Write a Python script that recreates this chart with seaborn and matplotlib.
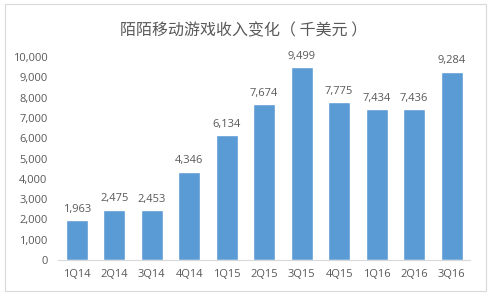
import matplotlib
matplotlib.use("Agg")
import matplotlib.pyplot as plt
import seaborn as sns
import pandas as pd
from matplotlib.patches import Rectangle

quarters = ["1Q14", "2Q14", "3Q14", "4Q14", "1Q15", "2Q15", "3Q15", "4Q15", "1Q16", "2Q16", "3Q16"]
revenue = [1963, 2475, 2453, 4346, 6134, 7674, 9499, 7775, 7434, 7436, 9284]
yticks = [0, 1000, 2000, 3000, 4000, 5000, 6000, 7000, 8000, 9000, 10000]
title = "陌陌移动游戏收入变化（ 千美元 ）"

sns.set_theme(style="white")
plt.rcParams['font.family'] = ['Open Sans', 'Noto Sans CJK SC', 'DejaVu Sans']

df = pd.DataFrame({"quarter": quarters, "revenue": revenue})

fig = plt.figure(figsize=(4.91, 2.97), dpi=100)
ax = fig.add_axes([0.118, 0.1246, 0.84, 0.6834])
sns.barplot(data=df, x="quarter", y="revenue", color="#5B9BD5", saturation=1,
            width=0.59, ax=ax)

gray = "#595959"
ax.set_ylim(0, 10000)
ax.set_yticks(yticks)
ax.set_yticklabels([f"{v:,}" for v in yticks], fontsize=8, color=gray)
ax.tick_params(axis='x', labelsize=8, colors=gray, length=0, pad=6.5)
ax.tick_params(axis='y', length=0, pad=7.5)
ax.set_xlabel("")
ax.set_ylabel("")
for s in ["top", "right", "left"]:
    ax.spines[s].set_visible(False)
ax.spines["bottom"].set_color("#D9D9D9")
ax.spines["bottom"].set_linewidth(0.8)

for c in ax.containers:
    ax.bar_label(c, labels=[f"{v:,}" for v in revenue], fontsize=8, color=gray, padding=4)

fig.text(0.497, 0.895, title, ha="center", va="center", fontsize=11.5, color=gray,
         family=['Noto Sans CJK SC', 'DejaVu Sans'])
fig.patches.append(Rectangle((0.011, 0.02), 0.978, 0.965, transform=fig.transFigure,
                             fill=False, edgecolor="#D9D9D9", linewidth=0.8))

fig.savefig("out.png", dpi=100)
